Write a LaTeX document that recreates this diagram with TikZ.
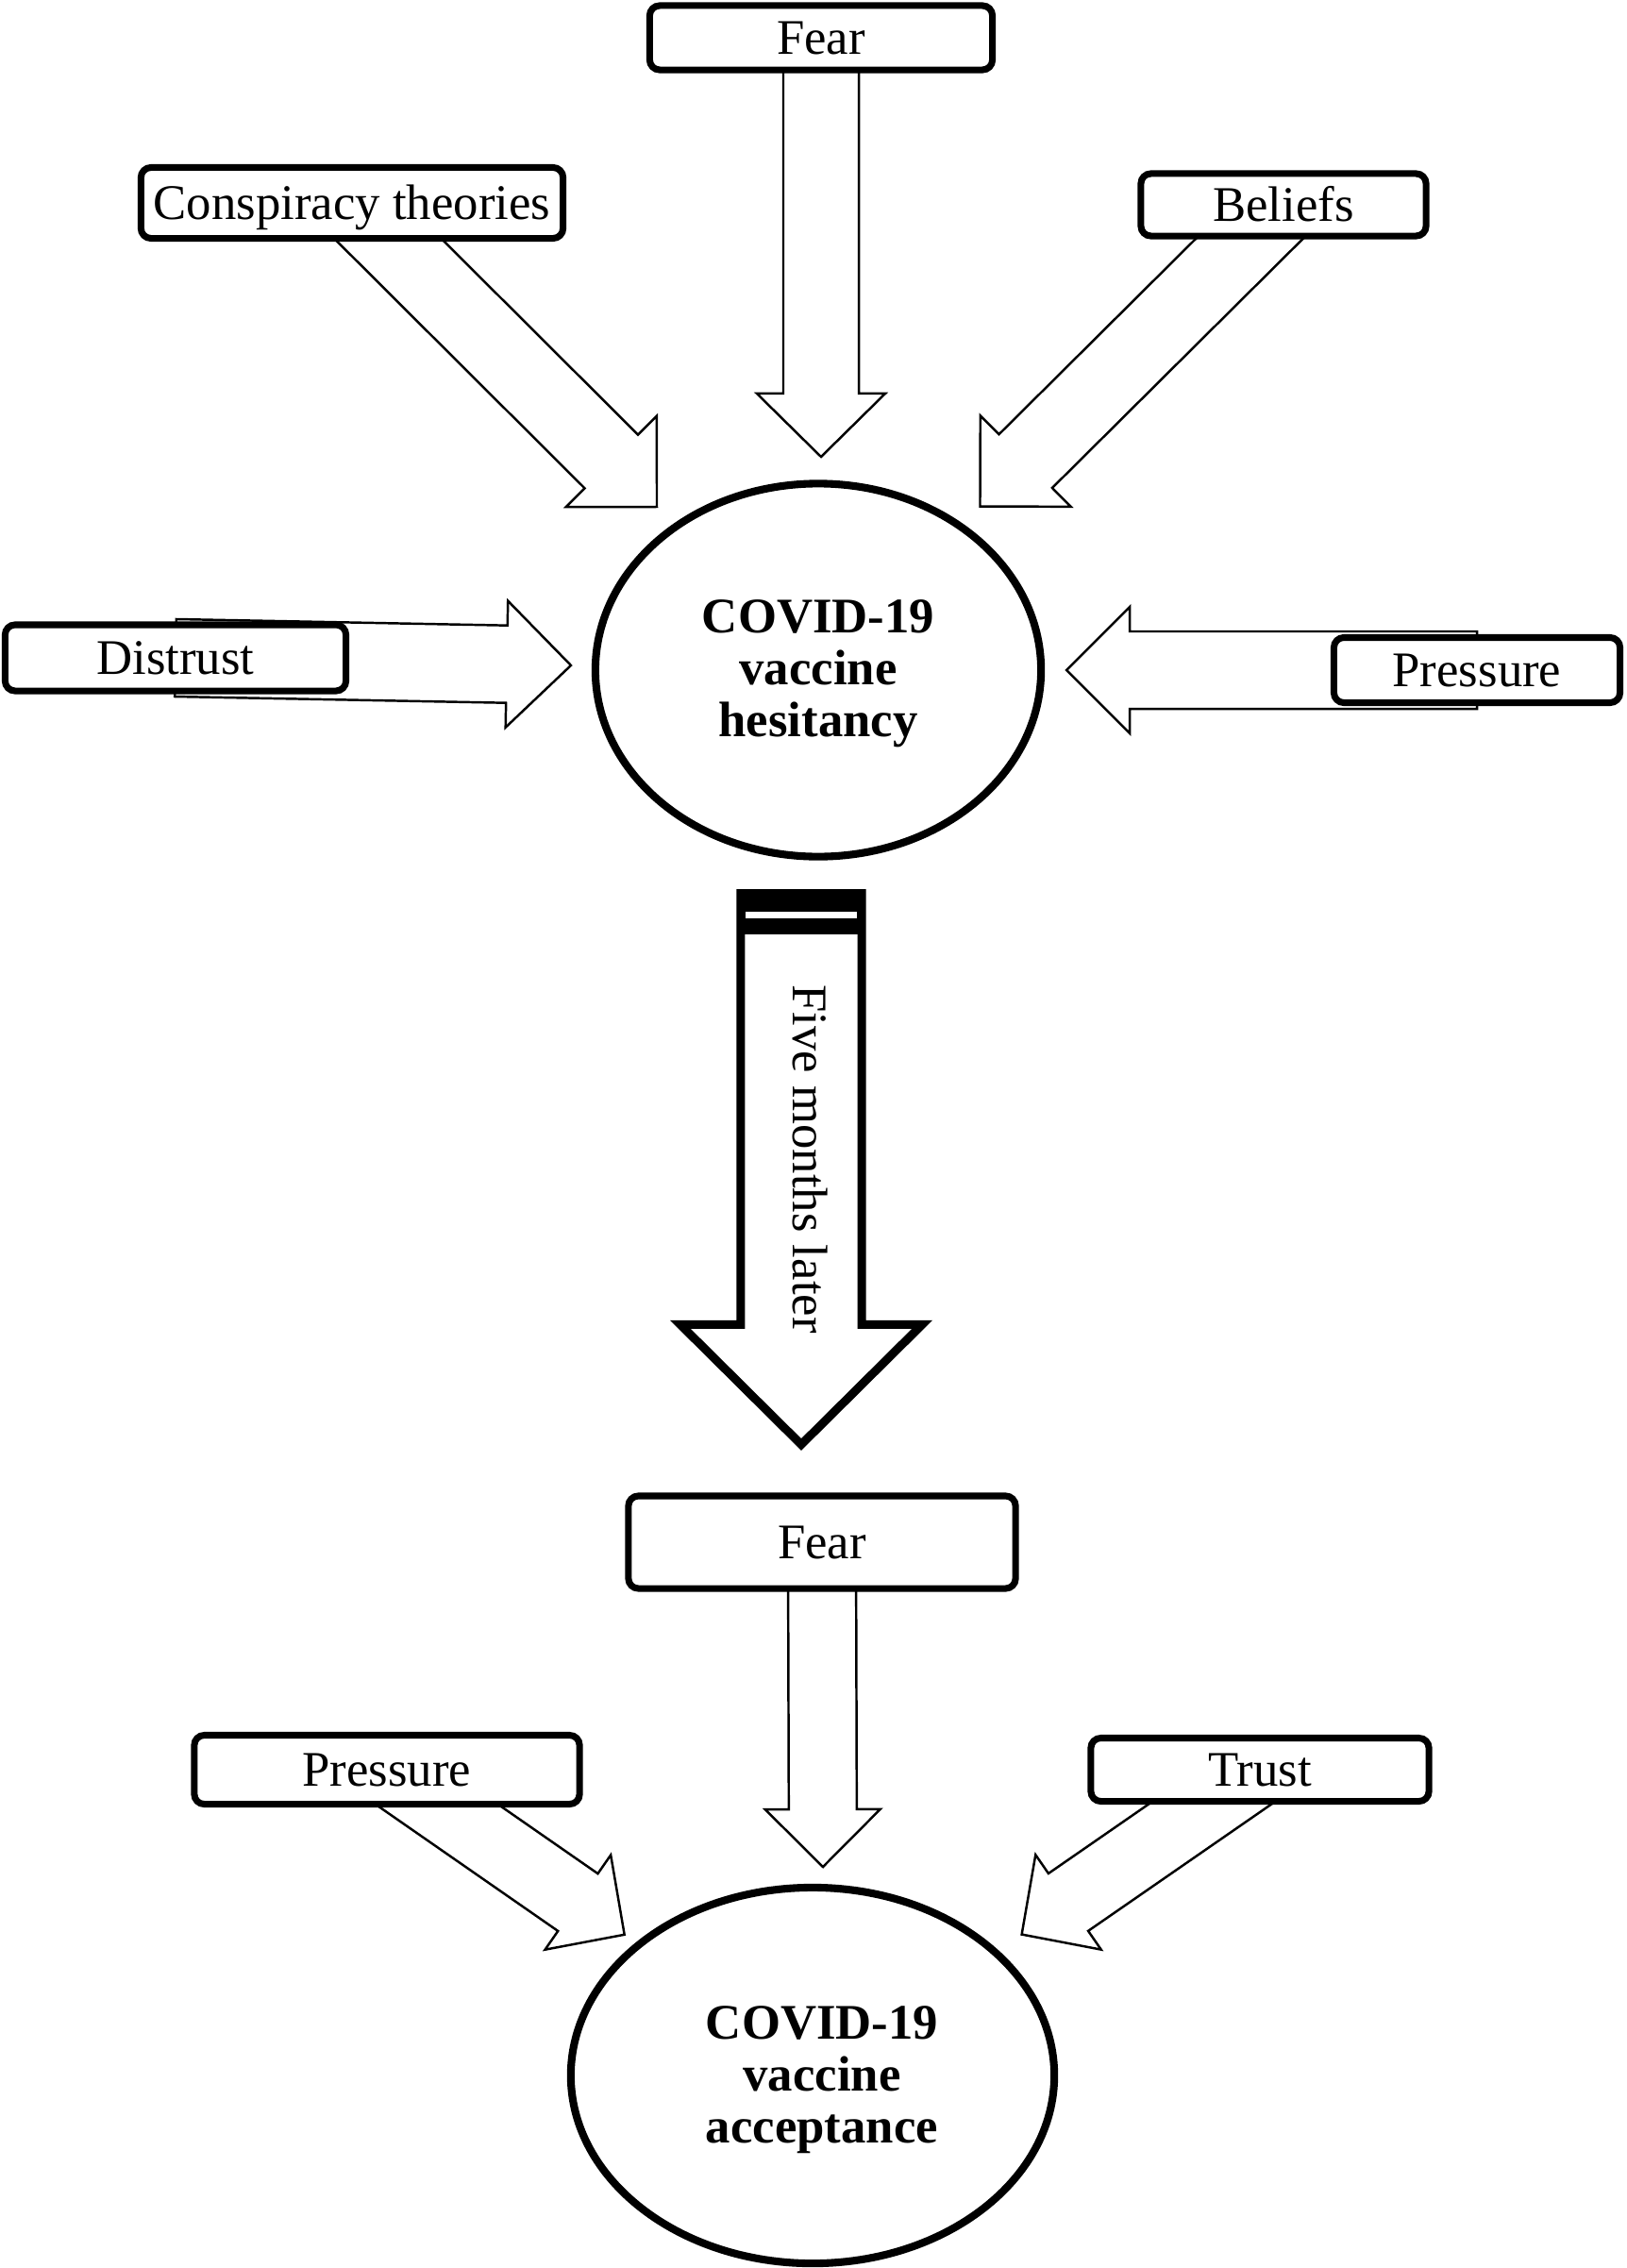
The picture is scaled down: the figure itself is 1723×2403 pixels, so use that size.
\documentclass[tikz,border=0pt]{standalone}
\usepackage{fontspec}
\setmainfont{Liberation Serif}
\usetikzlibrary{calc,shapes.geometric,backgrounds}

% hollow block arrow: [style]{tail}{tip}{shaft half width}{head half width}{head length}
\newcommand{\blockarrow}[6][]{%
  \path let \p1=($(#3)-(#2)$), \n1={atan2(\y1,\x1)}, \n2={veclen(\x1,\y1)} in
    \pgfextra{\xdef\barAng{\n1}\xdef\barLen{\n2}};
  \draw[blk,#1,shift={(#2)},rotate=\barAng]
    (0pt,-#4) -- ({\barLen-#6},-#4) -- ({\barLen-#6},-#5) -- (\barLen,0pt)
    -- ({\barLen-#6},#5) -- ({\barLen-#6},#4) -- (0pt,#4) -- cycle;}

\begin{document}
\begin{tikzpicture}[x=0.01cm,y=-0.01cm,
  box/.style={draw,line width=2pt,rounded corners=3pt,fill=white,inner sep=0pt,
    text height=9.9pt,text depth=0pt,font=\fontsize{15}{15.65}\selectfont},
  oval/.style={draw,ellipse,line width=2.3pt,inner sep=0pt},
  ovaltext/.style={inner sep=0pt,align=center,font=\fontsize{15}{15.65}\selectfont\bfseries},
  blk/.style={draw,fill=white,line width=0.7pt,miter limit=20},
  bigblk/.style={line width=2.56pt}
]
\useasboundingbox (0,0) rectangle (1723,2403);

% first survey
\node[oval,minimum width=4.72cm,minimum height=3.95cm] (hes) at (867,710) {};
\node[ovaltext] (hestext) at (867,714) {COVID-19\\vaccine\\hesitancy};
\node[box,minimum width=3.63cm,minimum height=0.68cm] (fearA) at (870,40) {Fear};
\node[box,minimum width=4.47cm,minimum height=0.75cm] (cons) at (373,215) {Conspiracy theories};
\node[box,minimum width=3.02cm,minimum height=0.66cm] (beliefs) at (1360,217) {Beliefs};
\node[box,minimum width=3.61cm,minimum height=0.70cm] (distrust) at (186,697) {Distrust};
\node[box,minimum width=3.03cm,minimum height=0.69cm] (pressA) at (1565,710) {Pressure};

\coordinate (tipFearA) at (870,484);
\coordinate (tipCons) at (697,538);
\coordinate (tipBeliefs) at (1037,538);
\coordinate (tipDistrust) at (605,705);
\coordinate (tipPressA) at (1130,710);

% five months later
\coordinate (bigtail) at (849,946.5);
\coordinate (bigtip) at (849,1530.5);

% second survey
\node[oval,minimum width=5.12cm,minimum height=3.98cm] (acc) at (861,2199) {};
\node[ovaltext] (acctext) at (871,2204) {COVID-19\\vaccine\\acceptance};
\node[box,minimum width=4.10cm,minimum height=0.98cm] (fearB) at (871,1634) {Fear};
\node[box,minimum width=4.08cm,minimum height=0.73cm] (pressB) at (410,1875) {Pressure};
\node[box,minimum width=3.58cm,minimum height=0.67cm] (trust) at (1335,1875) {Trust};

\coordinate (tipFearB) at (872,1978);
\coordinate (tipPressB) at (662,2050);
\coordinate (tipTrust) at (1082,2050);

\begin{scope}[on background layer]
\blockarrow{fearA}{tipFearA}{0.4cm}{0.68cm}{0.67cm}
\blockarrow{cons}{tipCons}{0.4cm}{0.68cm}{0.68cm}
\blockarrow{beliefs}{tipBeliefs}{0.4cm}{0.68cm}{0.68cm}
\blockarrow{distrust}{tipDistrust}{0.41cm}{0.67cm}{0.68cm}
\blockarrow{pressA}{tipPressA}{0.41cm}{0.67cm}{0.67cm}
\blockarrow[bigblk]{bigtail}{bigtip}{0.64cm}{1.28cm}{1.27cm}
\blockarrow{fearB}{tipFearB}{0.36cm}{0.61cm}{0.61cm}
\blockarrow{pressB}{tipPressB}{0.37cm}{0.61cm}{0.60cm}
\blockarrow{trust}{tipTrust}{0.37cm}{0.61cm}{0.60cm}
\end{scope}

\fill (781,942) rectangle (917,990);
\fill[white] (790,966) rectangle (908,973);
\node[rotate=-90,inner sep=0pt,font=\fontsize{15}{15.65}\selectfont] (later) at (859,1228) {Five months later};
\end{tikzpicture}
\end{document}
